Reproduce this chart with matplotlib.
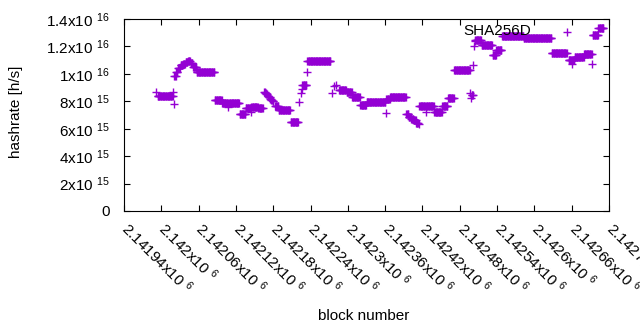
import matplotlib
matplotlib.use('Agg')
import matplotlib.pyplot as plt
import matplotlib.transforms as mtransforms
import numpy as np

plt.rcParams['font.family'] = ['Liberation Sans', 'DejaVu Sans']
plt.rcParams['mathtext.fontset'] = 'custom'
plt.rcParams['mathtext.rm'] = 'Liberation Sans'
plt.rcParams['mathtext.default'] = 'rm'

# runs of blocks with the same hashrate estimate (first block, last block, value x1e15)
run_start = [2141992, 2141994, 2142019, 2142020, 2142021, 2142024, 2142027, 2142031,
             2142035, 2142039, 2142043, 2142047, 2142051, 2142057, 2142086, 2142098,
             2142108, 2142109, 2142126, 2142136, 2142144, 2142145, 2142156, 2142165,
             2142167, 2142169, 2142171, 2142173, 2142175, 2142177, 2142179, 2142183,
             2142189, 2142208, 2142221, 2142225, 2142226, 2142227, 2142234, 2142235,
             2142274, 2142278, 2142281, 2142286, 2142298, 2142307, 2142320, 2142330,
             2142361, 2142362, 2142368, 2142394, 2142398, 2142402, 2142406, 2142410,
             2142414, 2142415, 2142426, 2142427, 2142439, 2142452, 2142461, 2142471,
             2142497, 2142498, 2142499, 2142502, 2142503, 2142504, 2142505, 2142515,
             2142533, 2142539, 2142548, 2142583, 2142628, 2142653, 2142655, 2142660,
             2142661, 2142665, 2142680, 2142693, 2142694, 2142703]
run_end = [2141992, 2142018, 2142019, 2142020, 2142023, 2142026, 2142030, 2142034,
           2142038, 2142042, 2142046, 2142050, 2142056, 2142085, 2142097, 2142107,
           2142108, 2142125, 2142135, 2142143, 2142144, 2142155, 2142163, 2142166,
           2142168, 2142170, 2142172, 2142174, 2142176, 2142178, 2142180, 2142188,
           2142207, 2142220, 2142221, 2142225, 2142226, 2142233, 2142234, 2142272,
           2142274, 2142278, 2142281, 2142297, 2142306, 2142319, 2142329, 2142360,
           2142361, 2142367, 2142393, 2142397, 2142401, 2142405, 2142409, 2142413,
           2142414, 2142425, 2142426, 2142438, 2142451, 2142460, 2142470, 2142496,
           2142497, 2142498, 2142501, 2142502, 2142503, 2142504, 2142514, 2142532,
           2142538, 2142547, 2142582, 2142627, 2142652, 2142653, 2142659, 2142660,
           2142664, 2142679, 2142692, 2142693, 2142702, 2142711]
run_value = [8.66, 8.36, 8.68, 7.77, 9.85, 10.15, 10.45, 10.62,
             10.75, 10.88, 10.95, 10.80, 10.52, 10.17, 8.13, 7.85,
             7.56, 7.85, 7.07, 7.49, 7.24, 7.60, 7.51, 8.70,
             8.60, 8.50, 8.40, 8.30, 8.20, 8.10, 8.00, 7.69,
             7.39, 6.51, 7.93, 8.58, 8.87, 9.19, 10.16, 10.92,
             8.63, 9.11, 9.19, 8.85, 8.70, 8.31, 7.73, 7.93,
             7.17, 8.15, 8.28, 7.05, 6.85, 6.70, 6.60, 6.45,
             6.34, 7.69, 7.24, 7.68, 7.20, 7.68, 8.22, 10.25,
             8.62, 8.21, 8.45, 10.61, 12.05, 12.40, 12.45, 12.10,
             11.35, 11.74, 12.74, 12.58, 11.50, 13.03, 10.99, 10.70,
             10.99, 11.25, 11.43, 10.70, 12.81, 13.32]

blocks = np.concatenate([np.arange(s, e + 1) for s, e in zip(run_start, run_end)])
hashrate = np.concatenate([np.full(e - s + 1, v * 1e15)
                           for s, e, v in zip(run_start, run_end, run_value)])

xticks = np.arange(2141940, 2142721, 60)
xtick_labels = ['%gx10 $^{6}$' % (t / 1e6) for t in xticks]
yticks = [0, 2e15, 4e15, 6e15, 8e15, 1e16, 1.2e16, 1.4e16]
ytick_labels = ['0', '2x10 $^{15}$', '4x10 $^{15}$', '6x10 $^{15}$', '8x10 $^{15}$',
                '1x10 $^{16}$', '1.2x10 $^{16}$', '1.4x10 $^{16}$']

fig = plt.figure(figsize=(6.4, 3.3), dpi=100)
ax = fig.add_axes([124 / 640, 1 - 211 / 330, 485 / 640, 192 / 330])

ax.plot(blocks, hashrate, linestyle='none', marker='+', markersize=5.5,
        markeredgewidth=1.0, color='#9400d3')

ax.set_xlim(2141940, 2142720)
ax.set_ylim(0, 1.4e16)
ax.set_xticks(xticks)
ax.set_xticklabels(xtick_labels, rotation=-45, ha='left', va='top',
                   rotation_mode='anchor', fontsize=11)
ax.set_yticks(yticks)
ax.set_yticklabels(ytick_labels, fontsize=11)
ax.tick_params(direction='in', top=True, right=True, length=4, width=0.8)
ax.tick_params(axis='y', pad=10.5)
ax.tick_params(axis='x', pad=6)
for s in ax.spines.values():
    s.set_linewidth(0.8)

# shift the rotated labels so they start at the tick, like gnuplot
shift = mtransforms.ScaledTranslation(0.07, 0.0, fig.dpi_scale_trans)
for lab in ax.get_xticklabels():
    lab.set_transform(lab.get_transform() + shift)

ax.text(0.699, 0.9375, 'SHA256D', transform=ax.transAxes, fontsize=11,
        ha='left', va='center')

fig.text(16 / 640, 1 - 112 / 330, 'hashrate [h/s]', rotation=90, fontsize=11,
         ha='center', va='center')
fig.text(364 / 640, 14 / 330, 'block number', fontsize=11, ha='center', va='center')

fig.savefig('out.png', dpi=100)
